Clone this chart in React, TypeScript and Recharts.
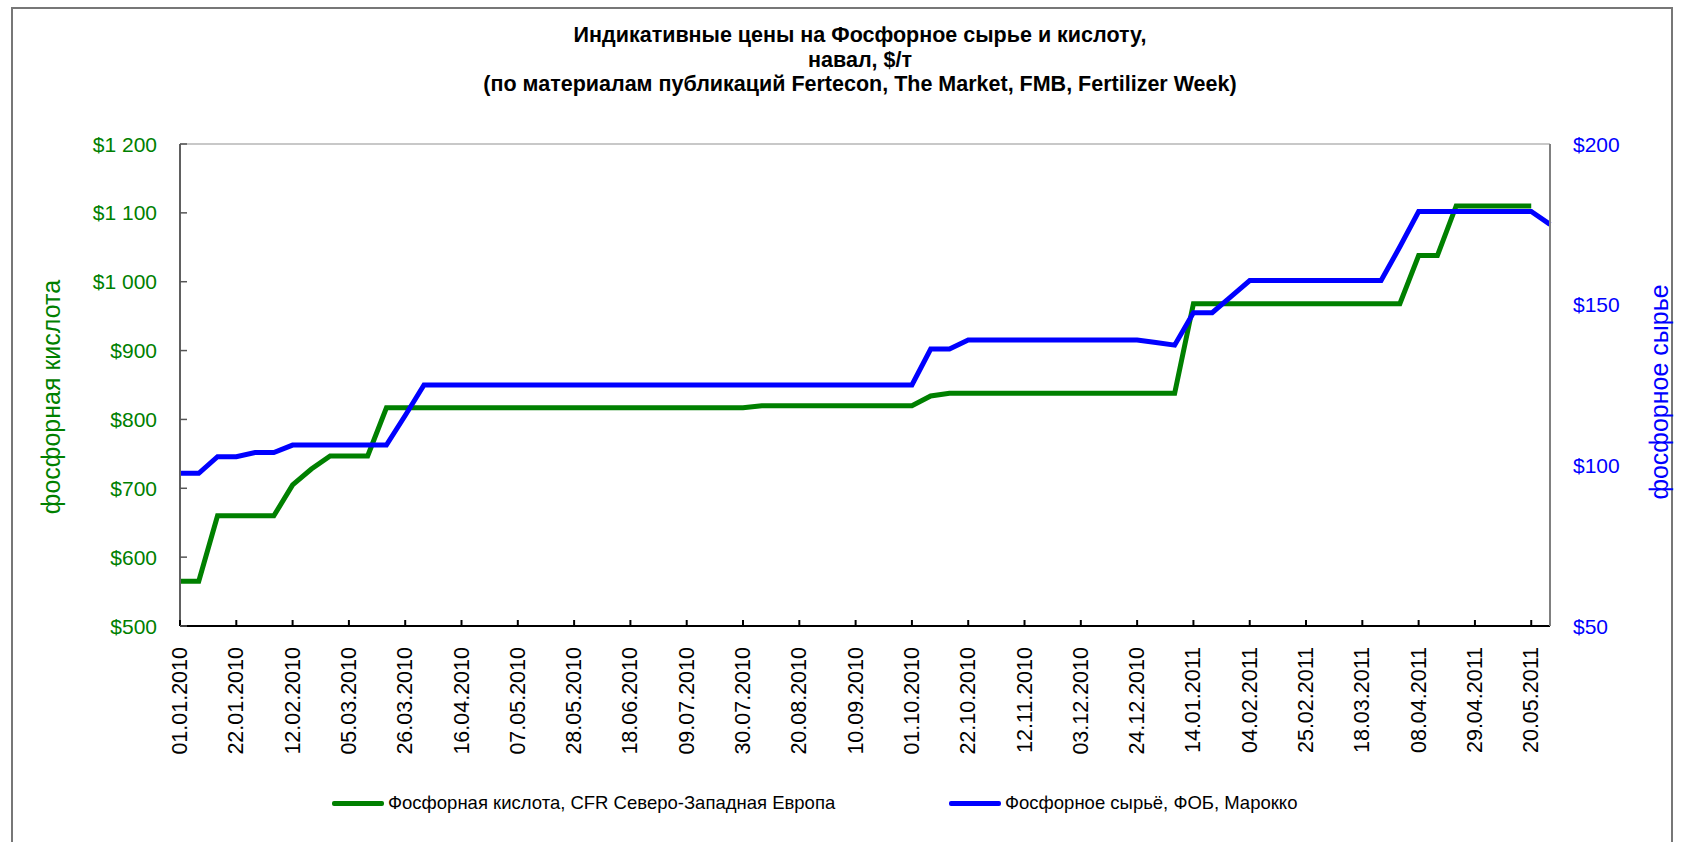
import React from 'react';
import { LineChart, Line, XAxis, YAxis, CartesianGrid, Legend, ReferenceLine } from 'recharts';

const FONT = '"Liberation Sans", Arial, sans-serif';
const GREEN = '#008000';
const BLUE = '#0000FF';

const dates: string[] = [
  '01.01.2010', '08.01.2010', '15.01.2010', '22.01.2010', '29.01.2010', '05.02.2010', '12.02.2010', '19.02.2010',
  '26.02.2010', '05.03.2010', '12.03.2010', '19.03.2010', '26.03.2010', '02.04.2010', '09.04.2010', '16.04.2010',
  '23.04.2010', '30.04.2010', '07.05.2010', '14.05.2010', '21.05.2010', '28.05.2010', '04.06.2010', '11.06.2010',
  '18.06.2010', '25.06.2010', '02.07.2010', '09.07.2010', '16.07.2010', '23.07.2010', '30.07.2010', '06.08.2010',
  '13.08.2010', '20.08.2010', '27.08.2010', '03.09.2010', '10.09.2010', '17.09.2010', '24.09.2010', '01.10.2010',
  '08.10.2010', '15.10.2010', '22.10.2010', '29.10.2010', '05.11.2010', '12.11.2010', '19.11.2010', '26.11.2010',
  '03.12.2010', '10.12.2010', '17.12.2010', '24.12.2010', '31.12.2010', '07.01.2011', '14.01.2011', '21.01.2011',
  '28.01.2011', '04.02.2011', '11.02.2011', '18.02.2011', '25.02.2011', '04.03.2011', '11.03.2011', '18.03.2011',
  '25.03.2011', '01.04.2011', '08.04.2011', '15.04.2011', '22.04.2011', '29.04.2011', '06.05.2011', '13.05.2011',
  '20.05.2011', '27.05.2011',
];

// Фосфорная кислота, CFR Северо-Западная Европа ($/т)
const acid: (number | null)[] = [
  565, 565, 660, 660, 660, 660, 705, 728,
  747, 747, 747, 817, 817, 817, 817, 817,
  817, 817, 817, 817, 817, 817, 817, 817,
  817, 817, 817, 817, 817, 817, 817, 820,
  820, 820, 820, 820, 820, 820, 820, 820,
  834, 838, 838, 838, 838, 838, 838, 838,
  838, 838, 838, 838, 838, 838, 968, 968,
  968, 968, 968, 968, 968, 968, 968, 968,
  968, 968, 1038, 1038, 1110, 1110, 1110, 1110,
  1110, null,
];

// Фосфорное сырьё, ФОБ, Марокко ($/т)
const rock: number[] = [
  97.5, 97.5, 102.7, 102.7, 104, 104, 106.3, 106.3,
  106.3, 106.3, 106.3, 106.3, 115.5, 125, 125, 125,
  125, 125, 125, 125, 125, 125, 125, 125,
  125, 125, 125, 125, 125, 125, 125, 125,
  125, 125, 125, 125, 125, 125, 125, 125,
  136.2, 136.2, 139, 139, 139, 139, 139, 139,
  139, 139, 139, 139, 138.2, 137.4, 147.5, 147.5,
  152.5, 157.5, 157.5, 157.5, 157.5, 157.5, 157.5, 157.5,
  157.5, 168, 179, 179, 179, 179, 179, 179,
  179, 175,
];

const leftTicks = [500, 600, 700, 800, 900, 1000, 1100, 1200];
const rightTicks = [50, 100, 150, 200];

const seriesNames = {
  acid: 'Фосфорная кислота, CFR Северо-Западная Европа',
  rock: 'Фосфорное сырьё, ФОБ, Марокко',
};

const titleLines = [
  'Индикативные цены на Фосфорное сырье и кислоту,',
  'навал, $/т',
  '(по материалам публикаций Fertecon, The Market, FMB, Fertilizer Week)',
];

const data = dates.map((d, i) => ({ date: d, acid: acid[i], rock: rock[i] }));

const fmtLeft = (v: number) =>
  v >= 1000 ? `$${Math.floor(v / 1000)} ${String(v % 1000).padStart(3, '0')}` : `$${v}`;

const XTick = (props: any) => {
  const { x, y, payload } = props;
  return (
    <g>
      <line x1={x} y1={y} x2={x} y2={y - 6} stroke="#000" strokeWidth={2} />
      <text
        x={0}
        y={0}
        transform={`translate(${x},${y + 21}) rotate(-90)`}
        textAnchor="end"
        dominantBaseline="central"
        fontSize={21.5}
        fontFamily={FONT}
        fill="#000"
      >
        {payload.value}
      </text>
    </g>
  );
};

const LeftTick = (props: any) => {
  const { x, y, payload } = props;
  return (
    <g>
      <line x1={x} y1={y} x2={x + 7} y2={y} stroke="#555" strokeWidth={1.5} />
      <text x={x - 23} y={y} textAnchor="end" dominantBaseline="central" fontSize={21} fontFamily={FONT} fill={GREEN}>
        {fmtLeft(payload.value)}
      </text>
    </g>
  );
};

const RightTick = (props: any) => {
  const { x, y, payload } = props;
  return (
    <text x={x + 23} y={y} textAnchor="start" dominantBaseline="central" fontSize={21} fontFamily={FONT} fill={BLUE}>
      {`$${payload.value}`}
    </text>
  );
};

const LeftTitle = (props: any) => {
  const vb = props.viewBox || { x: 0, y: 144, width: 180, height: 482 };
  const cx = vb.x + 51;
  const cy = vb.y + vb.height / 2 + 12;
  return (
    <text
      x={cx}
      y={cy}
      transform={`rotate(-90 ${cx} ${cy})`}
      textAnchor="middle"
      dominantBaseline="central"
      fontSize={25}
      fontFamily={FONT}
      fill={GREEN}
    >
      фосфорная кислота
    </text>
  );
};

const RightTitle = (props: any) => {
  const vb = props.viewBox || { x: 1550, y: 144, width: 131, height: 482 };
  const cx = vb.x + 109;
  const cy = vb.y + vb.height / 2 + 7;
  return (
    <text
      x={cx}
      y={cy}
      transform={`rotate(-90 ${cx} ${cy})`}
      textAnchor="middle"
      dominantBaseline="central"
      fontSize={25}
      fontFamily={FONT}
      fill={BLUE}
    >
      фосфорное сырье
    </text>
  );
};

const LegendContent = () => (
  <div style={{ position: 'relative', width: 1681, height: 30, fontFamily: FONT, fontSize: 18.5, color: '#000' }}>
    <div style={{ position: 'absolute', left: 332, top: 0, height: 30, display: 'flex', alignItems: 'center', whiteSpace: 'nowrap' }}>
      <span style={{ display: 'inline-block', width: 52, height: 5, background: GREEN, borderRadius: 2, marginRight: 4 }} />
      <span>{seriesNames.acid}</span>
    </div>
    <div style={{ position: 'absolute', left: 949, top: 0, height: 30, display: 'flex', alignItems: 'center', whiteSpace: 'nowrap' }}>
      <span style={{ display: 'inline-block', width: 52, height: 5, background: BLUE, borderRadius: 2, marginRight: 4 }} />
      <span>{seriesNames.rock}</span>
    </div>
  </div>
);

export default function App() {
  return (
    <div
      style={{
        position: 'absolute',
        left: 0,
        top: 0,
        width: 1681,
        height: 842,
        overflow: 'hidden',
        background: '#fff',
        fontFamily: FONT,
      }}
    >
      <div
        style={{
          position: 'absolute',
          left: 11,
          top: 7,
          width: 1662,
          height: 900,
          border: '2px solid #777',
          boxSizing: 'border-box',
        }}
      />
      <div
        style={{
          position: 'absolute',
          left: 360,
          top: 23,
          width: 1000,
          textAlign: 'center',
          fontWeight: 'bold',
          fontSize: 21.5,
          lineHeight: '24.5px',
          color: '#000',
        }}
      >
        {titleLines.map((t) => (
          <div key={t}>{t}</div>
        ))}
      </div>
      <div style={{ position: 'absolute', left: 0, top: 0 }}>
        <LineChart width={1681} height={842} data={data} margin={{ top: 144, right: 0, bottom: 56, left: 0 }}>
          <CartesianGrid vertical={false} stroke="#808080" strokeDasharray="1 1" />
          <ReferenceLine yAxisId="left" y={1200} stroke="#c8c8c8" strokeWidth={2} />
          <XAxis
            dataKey="date"
            interval={2}
            height={130}
            tickSize={0}
            tickMargin={0}
            tickLine={false}
            axisLine={{ stroke: '#000', strokeWidth: 2 }}
            tick={<XTick />}
          />
          <YAxis
            yAxisId="left"
            orientation="left"
            width={180}
            domain={[500, 1200]}
            ticks={leftTicks}
            interval={0}
            tickSize={0}
            tickMargin={0}
            tickLine={false}
            axisLine={{ stroke: '#606060', strokeWidth: 2 }}
            tick={<LeftTick />}
            label={<LeftTitle />}
          />
          <YAxis
            yAxisId="right"
            orientation="right"
            width={131}
            domain={[50, 200]}
            ticks={rightTicks}
            interval={0}
            tickSize={0}
            tickMargin={0}
            tickLine={false}
            axisLine={{ stroke: '#808080', strokeWidth: 2 }}
            tick={<RightTick />}
            label={<RightTitle />}
          />
          <Legend
            content={<LegendContent />}
            wrapperStyle={{ position: 'absolute', left: 0, top: 788, width: 1681, height: 30 }}
          />
          <Line
            yAxisId="left"
            type="linear"
            dataKey="acid"
            name={seriesNames.acid}
            stroke={GREEN}
            strokeWidth={5}
            dot={false}
            activeDot={false}
            isAnimationActive={false}
          />
          <Line
            yAxisId="right"
            type="linear"
            dataKey="rock"
            name={seriesNames.rock}
            stroke={BLUE}
            strokeWidth={5}
            dot={false}
            activeDot={false}
            isAnimationActive={false}
          />
        </LineChart>
      </div>
    </div>
  );
}
